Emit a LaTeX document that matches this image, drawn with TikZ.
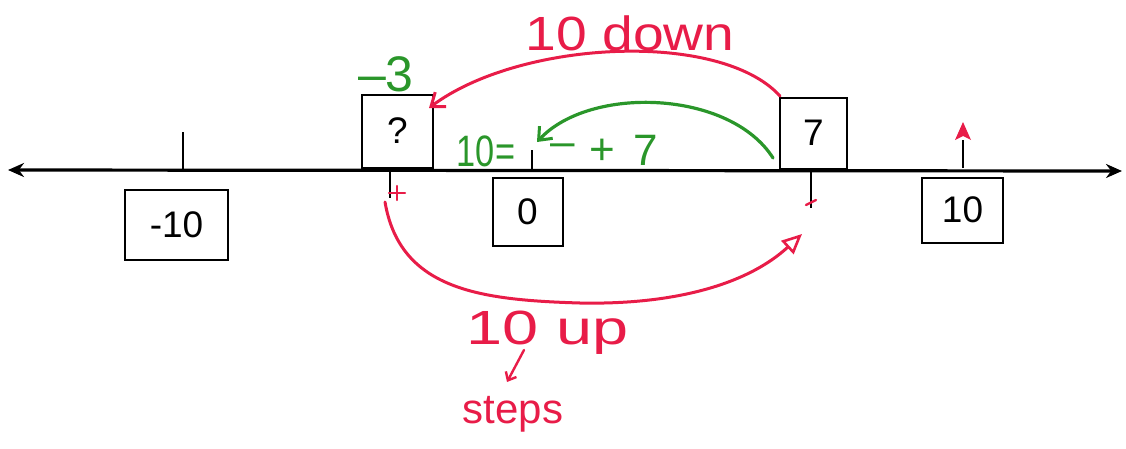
\documentclass[tikz,border=0pt]{standalone}
\usepackage{fontspec}
\setmainfont{Liberation Sans}
\usetikzlibrary{arrows.meta}
\definecolor{pen}{RGB}{232,28,72}
\definecolor{gpen}{RGB}{42,150,42}
\tikzset{
  numbox/.style={draw=black, line width=2pt, inner sep=0pt, font=\fontsize{37}{40}\selectfont},
  tickln/.style={line width=1.6pt, black},
  redline/.style={draw=pen, line width=3pt, line cap=round},
  greenline/.style={draw=gpen, line width=3.2pt, line cap=round},
  redtext/.style={text=pen, inner sep=0pt, font=\fontsize{48}{52}\selectfont},
  greentext/.style={text=gpen, inner sep=0pt, font=\fontsize{44}{48}\selectfont},
}
\begin{document}
\begin{tikzpicture}[x=1pt,y=-1pt]
\useasboundingbox (0,0) rectangle (1126,448);
% axis
\coordinate (L) at (8,170);
\coordinate (R) at (1122,171);
\draw[line width=3.2pt, {Stealth[length=16pt,width=14pt]}-{Stealth[length=16pt,width=14pt]}] (L) -- (R);
% boxes
\node[numbox, minimum width=103pt, minimum height=70pt] (bm10) at (176.5,225) {-10};
\node[numbox, minimum width=71pt, minimum height=73pt] (bq) at (397.5,131) {?};
\node[numbox, minimum width=70pt, minimum height=68pt] (b0) at (527.5,212) {0};
\node[numbox, minimum width=67pt, minimum height=71pt] (b7) at (813.5,133) {7};
\node[numbox, minimum width=81pt, minimum height=65pt] (b10) at (962.5,210) {10};
% ticks
\coordinate (tm10a) at (183,132); \coordinate (tm10b) at (183,170);
\draw[tickln] (tm10a) -- (tm10b);
\coordinate (t0a) at (532,150); \coordinate (t0b) at (532,170);
\draw[tickln] (t0a) -- (t0b);
\coordinate (tqb) at (390,198);
\draw[tickln] (bq.south -| tqb) -- (tqb);
\coordinate (t7b) at (811,208);
\draw[tickln] (b7.south -| t7b) -- (t7b);
\coordinate (t10a) at (963,168); \coordinate (t10b) at (963,122);
\draw[tickln] (t10a) -- (963,140);
\draw[draw=none, fill=pen] (t10b) -- (971,140) -- (963,136) -- (955,140) -- cycle;
% top red arc: 10 down
\coordinate (d0) at (780,96);
\coordinate (d1) at (429,108);
\draw[redline, -{Straight Barb[length=12pt,width=18pt,line width=3pt]}] (d0) .. controls (720,30) and (520,40) .. (d1);
\node[redtext, xscale=1.15] (tdown) at (630,33) {10 down};
% bottom red arc: 10 up
\coordinate (u0) at (385,202);
\coordinate (um) at (580,303);
\coordinate (u1) at (802,234);
\draw[redline, -{Triangle[open,length=20pt,width=18pt,line width=2.6pt]}] (u0) .. controls (400,290) and (480,300) .. (um) .. controls (680,305) and (750,282) .. (u1);
\coordinate (x1) at (389,193); \coordinate (x2) at (405,193);
\coordinate (x3) at (397,186); \coordinate (x4) at (397,200);
\draw[redline, line width=2.4pt] (x1) -- (x2) (x3) -- (x4);
\coordinate (s1) at (806,205); \coordinate (s2) at (816,200);
\draw[redline, line width=2.4pt] (s1) -- (s2);
\node[redtext, xscale=1.35] (tup) at (548,333) {10 up};
\node[redtext, font=\fontsize{42}{46}\selectfont] (tsteps) at (513,414) {steps};
\coordinate (a0) at (524,350);
\coordinate (a1) at (507,382);
\draw[redline, line width=2.4pt, -{Straight Barb[length=7pt,width=12pt,line width=2.4pt]}] (a0) -- (a1);
% green
\node[greentext, font=\fontsize{50}{54}\selectfont] (tm3) at (386,74) {\textendash 3};
\coordinate (g0) at (773,158);
\coordinate (g1) at (537,142);
\draw[greenline, -{Straight Barb[length=11pt,width=18pt,line width=3pt]}] (g0) .. controls (730,90) and (590,85) .. (g1);
\node[greentext, xscale=0.78] (teq) at (486,151) {10=};
\node[greentext] (tmin) at (563,150) {\textendash};
\node[greentext] (tplus) at (602,152) {+};
\node[greentext] (tseven) at (646,150) {7};
\end{tikzpicture}
\end{document}
